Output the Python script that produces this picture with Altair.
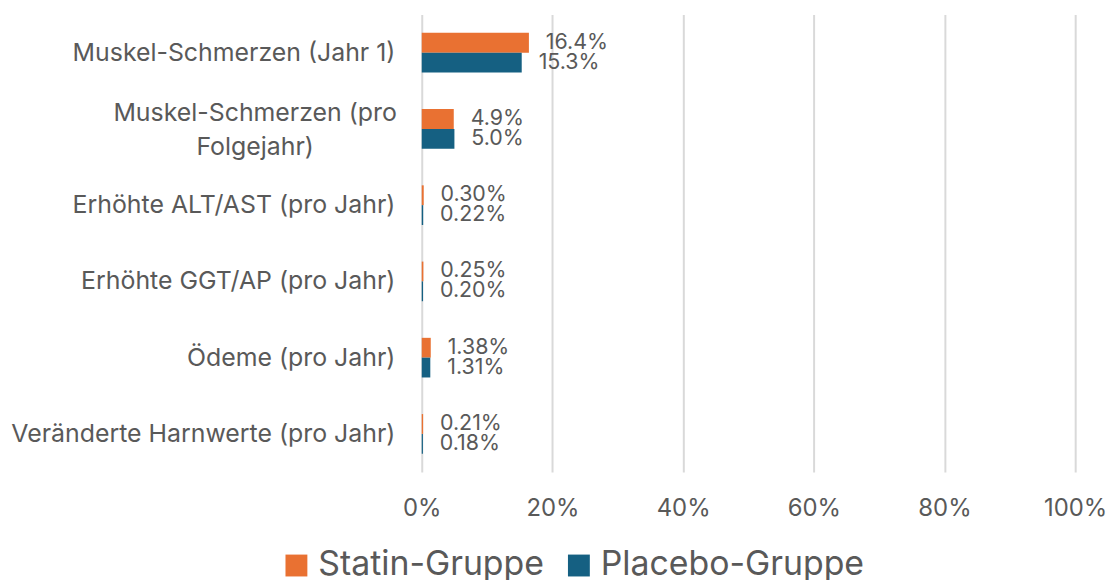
import altair as alt
import pandas as pd

categories = [
    "Muskel-Schmerzen (Jahr 1)",
    "Muskel-Schmerzen (pro|Folgejahr)",
    "Erhöhte ALT/AST (pro Jahr)",
    "Erhöhte GGT/AP (pro Jahr)",
    "Ödeme (pro Jahr)",
    "Veränderte Harnwerte (pro Jahr)",
]
series = ["Statin-Gruppe", "Placebo-Gruppe"]
statin = [16.4, 4.9, 0.30, 0.25, 1.38, 0.21]
placebo = [15.3, 5.0, 0.22, 0.20, 1.31, 0.18]
x_ticks = [0, 0.2, 0.4, 0.6, 0.8, 1.0]
colors = ["#E97132", "#156082"]

rows = []
for c, s, p in zip(categories, statin, placebo):
    rows.append({"cat": c, "series": series[0], "v": s / 100})
    rows.append({"cat": c, "series": series[1], "v": p / 100})
df = pd.DataFrame(rows)

FONT = "Inter"
TXT = "#595959"
WRAP = "indexof(datum.value, '|') >= 0"

y = alt.Y("cat:N", sort=categories,
          scale=alt.Scale(paddingInner=0.48, paddingOuter=0.24),
          axis=alt.Axis(title=None, labelExpr="split(datum.label, '|')",
                        labelFontSize=25, labelColor=TXT, labelFont=FONT,
                        labelPadding=alt.ExprRef(WRAP + " ? 168 : 27"),
                        labelAlign=alt.ExprRef(WRAP + " ? 'center' : 'right'"),
                        labelOffset=alt.ExprRef(WRAP + " ? -16 : 0"),
                        ticks=False, domain=False,
                        labelLineHeight=34, labelLimit=500))
yoff = alt.YOffset("series:N", sort=series)
x = alt.X("v:Q", scale=alt.Scale(domain=[0, 1], nice=False),
          axis=alt.Axis(title=None, format="%", values=x_ticks, grid=True,
                        gridColor="#D9D9D9", gridWidth=2, ticks=False,
                        domain=False, labelFontSize=24, labelColor=TXT,
                        labelFont=FONT, labelPadding=25, labelFlush=False,
                        labelOverlap=False))

bars = alt.Chart(df).mark_bar().encode(
    y=y, yOffset=yoff, x=x,
    color=alt.Color("series:N", sort=series,
                    scale=alt.Scale(domain=series, range=colors),
                    legend=alt.Legend(title=None, orient="none", legendX=-143,
                                      legendY=537, direction="horizontal",
                                      symbolType="square", symbolSize=484,
                                      symbolStrokeWidth=0, labelFontSize=34,
                                      labelFont=FONT, labelColor=TXT,
                                      labelLimit=500, columnPadding=17,
                                      labelOffset=5)),
)

labels = alt.Chart(df).transform_calculate(
    lbl="datum.v >= 0.02 ? format(datum.v, '.1%') : format(datum.v, '.2%')"
).mark_text(align="left", baseline="middle", dx=17, fontSize=21.5,
            font=FONT, color=TXT).encode(
    y=y, yOffset=yoff, x=x, text="lbl:N"
)

chart = (bars + labels).properties(
    width=657, height=460,
    autosize=alt.AutoSizeParams(type="none"),
    padding={"left": 416, "top": 5, "right": 33, "bottom": 107},
).configure_view(stroke=None)

chart.save("out.html", embed_options={"renderer": "svg", "actions": False})
